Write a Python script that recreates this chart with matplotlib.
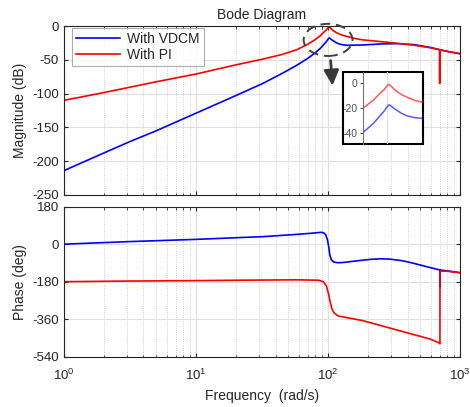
import matplotlib
matplotlib.use("Agg")
import matplotlib.pyplot as plt
from matplotlib.patches import Ellipse, Rectangle, FancyArrowPatch

plt.rcParams['font.family'] = ['Liberation Sans', 'DejaVu Sans']
plt.rcParams['axes.unicode_minus'] = False

# magnitude (rad/s, dB)
w_mag_pi = [1, 2, 3.16, 5, 10, 20, 32, 45, 58, 70, 80, 88, 94, 97, 100, 102, 104, 107,
            110, 115, 121, 130, 140, 160, 184, 250, 333, 450, 590, 698, 700, 702, 800, 1000]
mag_pi = [-110, -98.5, -90.5, -82.5, -71, -57.5, -49, -42, -35, -27, -20, -13.8, -8, -5.8,
          -2.5, -1.2, -2.5, -5, -7, -9.5, -11.5, -14, -15.5, -18.5, -20.5, -23, -25.5, -28.5,
          -32, -35, -85, -35.3, -37.5, -41]

w_mag_vdcm = [1, 2, 3.16, 5, 10, 20, 32, 45, 58, 70, 80, 88, 94, 97, 100, 102, 104, 107,
              110, 115, 121, 130, 140, 184, 250, 333, 450, 590, 700, 800, 1000]
mag_vdcm = [-214, -188, -171, -155, -129, -103, -85, -70, -58, -48, -39.5, -32.5, -26, -23,
            -19.5, -17.5, -18.5, -20.5, -22, -24.5, -26.4, -27.8, -28.5, -28, -26.5, -26,
            -27.5, -31.5, -35, -37.5, -41]

# phase (rad/s, deg)
w_ph_vdcm = [1, 3, 10, 20, 32, 58, 80, 89, 93, 96, 99, 101, 103, 106, 110, 118, 130,
             160, 208, 250, 296, 370, 446, 600, 703, 704, 705, 800, 1000]
ph_vdcm = [0, 12, 23, 31, 36, 47, 54, 57, 54, 45, 20, -10, -50, -75, -85, -89, -88,
           -81, -73, -70, -72, -80, -92, -113, -124, -205, -124, -128, -137]

w_ph_pi = [1, 3, 10, 20, 58, 85, 92, 97, 101, 104, 107, 111, 120, 184, 333, 590, 690,
           703, 704, 800, 1000]
ph_pi = [-180, -177, -175, -173, -171, -173, -180, -200, -240, -280, -310, -330, -345,
         -367, -412, -455, -473, -478, -129, -130, -137]

labels = ['With VDCM', 'With PI']
edge = (0.15, 0.15, 0.15)

fig = plt.figure(figsize=(4.7, 4.07), dpi=100)
ax1 = fig.add_axes([0.136, 0.521, 0.843, 0.415])
ax2 = fig.add_axes([0.136, 0.1236, 0.843, 0.3686])

for ax in (ax1, ax2):
    ax.set_xscale('log')
    ax.set_xlim(1, 1000)
    ax.grid(True, which='major', color=(0.88, 0.88, 0.88), lw=0.8)
    ax.grid(True, which='minor', axis='x', color=(0.75, 0.75, 0.75), ls=':', lw=0.6)
    ax.tick_params(which='both', direction='in', top=True, right=True, colors=edge,
                   labelsize=9.5)
    ax.tick_params(which='major', length=3)
    ax.tick_params(which='minor', length=1.8)
    for s in ax.spines.values():
        s.set_color(edge)
        s.set_linewidth(0.8)
    ax.set_axisbelow(True)

ax1.semilogx(w_mag_vdcm, mag_vdcm, color='blue', lw=1.2, label=labels[0])
ax1.semilogx(w_mag_pi, mag_pi, color='red', lw=1.2, label=labels[1])
ax1.set_ylim(-250, 0)
ax1.set_yticks([0, -50, -100, -150, -200, -250])
ax1.set_xticklabels([])
ax1.set_ylabel('Magnitude (dB)', fontsize=10, color=edge)
ax1.set_title('Bode Diagram', fontsize=10, color=edge, pad=5)
leg = ax1.legend(loc='upper left', fontsize=10, handlelength=3.2, borderpad=0.3,
                 labelspacing=0.15, fancybox=False, bbox_to_anchor=(0.02, 0.99),
                 handletextpad=0.5, borderaxespad=0)
leg.get_frame().set_edgecolor((0.6, 0.6, 0.6))
leg.get_frame().set_linewidth(0.8)
for t in leg.get_texts():
    t.set_color(edge)

ax2.semilogx(w_ph_vdcm, ph_vdcm, color='blue', lw=1.2)
ax2.semilogx(w_ph_pi, ph_pi, color='red', lw=1.2)
ax2.set_ylim(-540, 180)
ax2.set_yticks([180, 0, -180, -360, -540])
ax2.tick_params(axis='x', which='major', pad=8)
ax2.set_ylabel('Phase (deg)', fontsize=10, color=edge)
ax2.set_xlabel('Frequency  (rad/s)', fontsize=10, color=edge)

# zoomed inset around the resonance
fig.add_artist(Rectangle((0.729, 0.646), 0.170, 0.178, transform=fig.transFigure,
                         fill=True, facecolor='white', edgecolor='black', lw=1.5,
                         zorder=5))
axi = fig.add_axes([0.773, 0.646, 0.126, 0.178], zorder=6)
axi.patch.set_alpha(0)
axi.semilogx(w_mag_vdcm, mag_vdcm, color='blue', lw=1.1, alpha=0.65)
axi.semilogx(w_mag_pi, mag_pi, color='red', lw=1.1, alpha=0.65)
axi.set_xlim(80, 140)
axi.set_ylim(-49, 9)
axi.set_yticks([0, -20, -40])
axi.set_xticks([100])
axi.set_xticks([], minor=True)
axi.set_xticklabels([])
axi.grid(True, axis='x', color=(0.88, 0.88, 0.88), lw=0.8)
axi.tick_params(axis='y', direction='out', length=2, labelsize=7.5, colors=(0.3, 0.3, 0.3),
                pad=2)
axi.tick_params(axis='x', length=0)
for k in ('top', 'right', 'bottom'):
    axi.spines[k].set_visible(False)
axi.spines['left'].set_color((0.45, 0.45, 0.45))
axi.spines['left'].set_linewidth(0.8)

# dashed ellipse and arrow pointing to inset
fig.add_artist(Ellipse((0.698, 0.902), 0.104, 0.079, transform=fig.transFigure,
                       fill=False, edgecolor=(0.25, 0.25, 0.25), lw=1.4,
                       ls=(0, (5, 3)), zorder=4))
fig.add_artist(FancyArrowPatch((0.703, 0.858), (0.708, 0.783), transform=fig.transFigure,
                               arrowstyle='-|>,head_length=0.9,head_width=0.45',
                               mutation_scale=10, color=(0.22, 0.22, 0.22), lw=2,
                               zorder=4))

fig.savefig('out.png', dpi=100)
